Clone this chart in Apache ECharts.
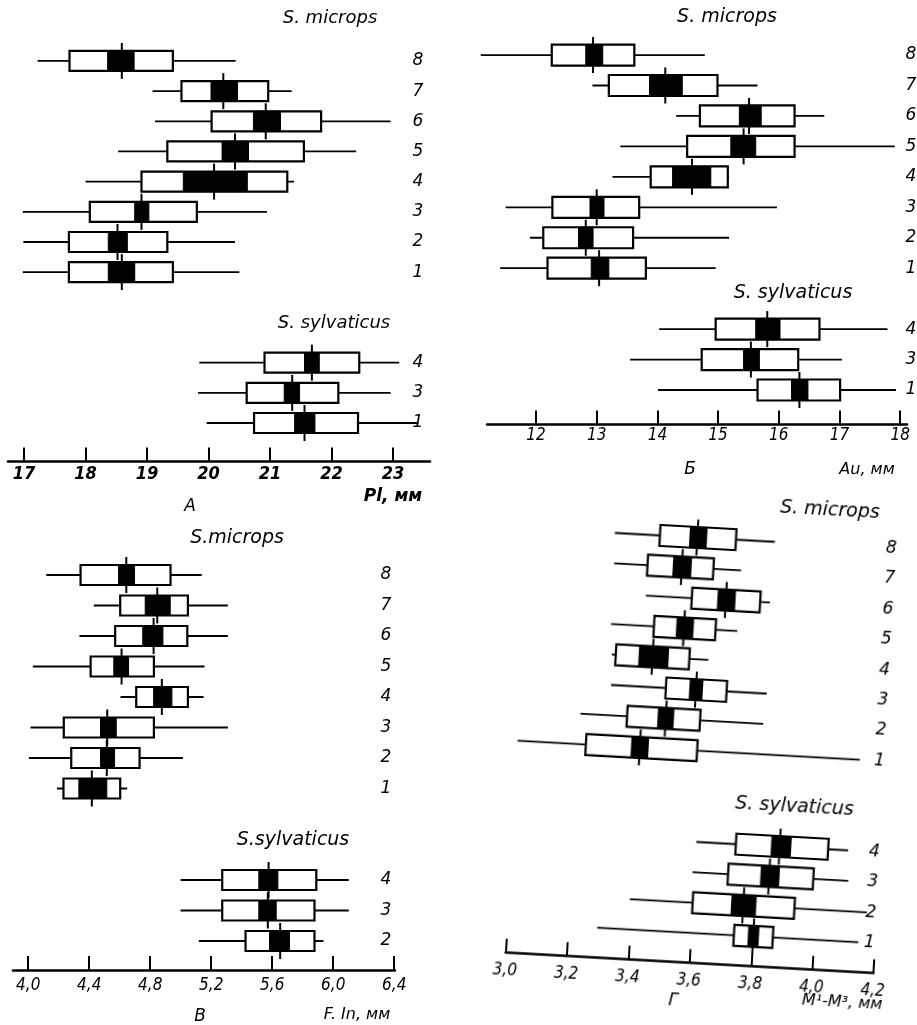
<!DOCTYPE html>
<html><head><meta charset="utf-8">
<script src="https://cdn.jsdelivr.net/npm/echarts@6/dist/echarts.min.js"></script>
<style>
html,body{margin:0;padding:0;background:#fff;}
#main{position:absolute;left:0;top:0;width:917px;height:1025px;}
#g{position:absolute;left:440px;top:470px;width:477px;height:555px;transform:rotate(3.19deg);transform-origin:65.7px 482.7px;}
</style></head>
<body><div id="main"></div><div id="g"></div>
<script>
// Each row: [min, SD low, SE low, mean, SE high, SD high, max]
const rowsMicrops = ['8','7','6','5','4','3','2','1'];

// Panel А — Pl, мм
const A_ticks = [17,18,19,20,21,22,23];
const A_tickLabels = ['17','18','19','20','21','22','23'];
const A_microps = [
  [17.22,17.74,18.36,18.59,18.79,19.42,20.44],
  [19.09,19.56,20.04,20.24,20.47,20.97,21.35],
  [19.13,20.05,20.73,20.93,21.17,21.83,22.96],
  [18.53,19.33,20.22,20.43,20.65,21.55,22.40],
  [18.00,18.91,19.59,20.09,20.63,21.28,21.39],
  [16.98,18.07,18.80,18.91,19.03,19.81,20.95],
  [16.99,17.73,18.37,18.52,18.68,19.33,20.43],
  [16.98,17.73,18.37,18.59,18.80,19.42,20.50]
];
const A_sylvRows = ['4','3','1'];
const A_sylv = [
  [19.85,20.91,21.56,21.68,21.80,22.45,23.10],
  [19.83,20.62,21.23,21.36,21.48,22.11,22.96],
  [19.97,20.74,21.40,21.56,21.73,22.43,23.41]
];

// Panel Б — Au, мм
const B_ticks = [12,13,14,15,16,17,18];
const B_tickLabels = ['12','13','14','15','16','17','18'];
const B_microps = [
  [11.09,12.26,12.82,12.94,13.10,13.62,14.78],
  [12.93,13.20,13.87,14.13,14.41,14.99,15.65],
  [14.31,14.70,15.35,15.51,15.71,16.26,16.75],
  [13.39,14.49,15.21,15.42,15.62,16.26,17.91],
  [13.26,13.89,14.25,14.57,14.88,15.16,15.18],
  [11.50,12.27,12.89,13.00,13.12,13.70,15.97],
  [11.90,12.12,12.70,12.82,12.94,13.60,15.18],
  [11.41,12.19,12.91,13.04,13.20,13.81,14.96]
];
const B_sylvRows = ['4','3','1'];
const B_sylv = [
  [14.03,14.96,15.62,15.81,16.02,16.67,17.79],
  [13.55,14.73,15.42,15.54,15.68,16.32,17.04],
  [14.01,15.65,16.21,16.34,16.48,17.01,17.93]
];

// Panel В — F. In, мм
const V_ticks = [4.0,4.4,4.8,5.2,5.6,6.0,6.4];
const V_tickLabels = ['4,0','4,4','4,8','5,2','5,6','6,0','6,4'];
const V_microps = [
  [4.118,4.343,4.592,4.643,4.697,4.933,5.138],
  [4.430,4.603,4.767,4.846,4.931,5.047,5.309],
  [4.336,4.570,4.751,4.822,4.883,5.043,5.309],
  [4.030,4.409,4.561,4.612,4.658,4.824,5.156],
  [4.605,4.708,4.822,4.876,4.942,5.047,5.150],
  [4.015,4.233,4.474,4.518,4.577,4.824,5.309],
  [4.004,4.282,4.474,4.515,4.566,4.730,5.014],
  [4.188,4.231,4.332,4.417,4.515,4.603,4.649]
];
const V_sylvRows = ['4','3','2'];
const V_sylv = [
  [4.999,5.272,5.512,5.576,5.637,5.889,6.102],
  [4.999,5.272,5.512,5.571,5.626,5.877,6.102],
  [5.119,5.425,5.582,5.652,5.713,5.877,5.936]
];

// Panel Г — M¹-M³, мм
const G_ticks = [3.0,3.2,3.4,3.6,3.8,4.0,4.2];
const G_tickLabels = ['3,0','3,2','3,4','3,6','3,8','4,0','4,2'];
const G_microps = [
  [3.279,3.426,3.524,3.548,3.578,3.674,3.801],
  [3.282,3.391,3.475,3.503,3.533,3.606,3.696],
  [3.391,3.541,3.626,3.652,3.682,3.764,3.796],
  [3.283,3.423,3.497,3.521,3.551,3.624,3.695],
  [3.291,3.304,3.380,3.424,3.475,3.544,3.606],
  [3.294,3.473,3.551,3.571,3.592,3.671,3.802],
  [3.200,3.352,3.453,3.478,3.503,3.590,3.796],
  [3.000,3.223,3.372,3.399,3.426,3.586,4.117]
];
const G_sylvRows = ['4','3','2','1'];
const G_sylv = [
  [3.600,3.729,3.845,3.872,3.908,4.030,4.095],
  [3.593,3.709,3.816,3.843,3.875,3.987,4.101],
  [3.394,3.599,3.726,3.764,3.805,3.931,4.167],
  [3.293,3.739,3.786,3.802,3.819,3.866,4.145]
];

const FONT = "'DejaVu Sans', 'Liberation Sans', sans-serif";
const NARROW = "'Liberation Sans Narrow', 'DejaVu Sans Condensed', 'Liberation Sans', sans-serif";

function buildData(rows, gap) {
  const n = rows.length;
  return rows.map((r, i) => [gap + (n - 1 - i)].concat(r));
}

function makeRender(labels, cfg) {
  return function (params, api) {
    const s = api.value(0);
    const X = k => api.coord([api.value(k), s])[0];
    const y = api.coord([api.value(4), s])[1];
    const bh = cfg.bh, th = cfg.th;
    const xMin = X(1), xSdL = X(2), xSeL = X(3), xM = X(4), xSeH = X(5), xSdH = X(6), xMax = X(7);
    const cs = params.coordSys;
    return {
      type: 'group',
      children: [
        {type:'line', shape:{x1:xMin, y1:y, x2:xMax, y2:y}, style:{stroke:'#000', lineWidth:1.8}},
        {type:'rect', shape:{x:xSdL, y:y-bh/2, width:xSdH-xSdL, height:bh}, style:{fill:'#fff', stroke:'#000', lineWidth:2.2}},
        {type:'rect', shape:{x:xSeL, y:y-bh/2, width:xSeH-xSeL, height:bh}, style:{fill:'#000', stroke:'#000', lineWidth:1}},
        {type:'line', shape:{x1:xM, y1:y-th, x2:xM, y2:y+th}, style:{stroke:'#000', lineWidth:2}},
        {type:'text', x: cs.x + cs.width + cfg.labelDx, y: y,
          style:{text: labels[params.dataIndex], font: 'italic ' + cfg.labelSize + 'px ' + FONT, fill:'#000', align:'center', verticalAlign:'middle'}}
      ]
    };
  };
}

function panel(p, gi) {
  const yMin = -p.off / p.h;
  const yMax = yMin + p.height / p.h;
  const grid = {left:p.left, top:p.axisY - p.height, width:p.width, height:p.height};
  const xAxis = {
    gridIndex: gi, type:'value', min:p.min, max:p.max, position:'bottom',
    axisLine:{show:true, onZero:false, lineStyle:{color:'#000', width:2.5}},
    axisTick:{show:true, inside:true, length:14, customValues:p.ticks, lineStyle:{color:'#000', width:2}},
    axisLabel:{customValues:p.ticks, margin:p.labelMargin, color:'#000', fontFamily:NARROW, fontStyle:'italic',
      fontWeight:p.bold ? 'bold' : 'normal', fontSize:p.tickSize,
      formatter: v => { const i = p.ticks.findIndex(t => Math.abs(t - v) < 1e-6); return i >= 0 ? p.tickLabels[i] : ''; }},
    splitLine:{show:false}
  };
  const yAxis = {gridIndex:gi, type:'value', min:yMin, max:yMax, show:false};
  const cfg = {bh:p.bh, th:18, labelDx:p.labelDx, labelSize:p.labelSize};
  const series = [
    {type:'custom', xAxisIndex:gi, yAxisIndex:gi, data:buildData(p.microps, p.gap), renderItem:makeRender(p.rowsM, cfg), clip:false, silent:true},
    {type:'custom', xAxisIndex:gi, yAxisIndex:gi, data:buildData(p.sylv, 0), renderItem:makeRender(p.rowsS, cfg), clip:false, silent:true}
  ];
  return {grid, xAxis, yAxis, series};
}

function txt(x, y, text, size, extra) {
  return Object.assign({type:'text', x:x, y:y, silent:true,
    style:{text:text, font:'italic ' + size + 'px ' + FONT, fill:'#000', align:'center', verticalAlign:'middle'}}, extra || {});
}

const pA = panel({left:8, width:422, axisY:461.5, height:441.5, min:16.74, max:23.60, ticks:A_ticks, tickLabels:A_tickLabels,
  off:38.5, h:30.17, gap:5, microps:A_microps, sylv:A_sylv, rowsM:rowsMicrops, rowsS:A_sylvRows,
  bh:20, labelDx:-12, labelSize:17, labelMargin:4, tickSize:18, bold:true}, 0);
const pB = panel({left:487, width:420, axisY:424.5, height:410, min:11.193, max:18.112, ticks:B_ticks, tickLabels:B_tickLabels,
  off:34.5, h:30.45, gap:4, microps:B_microps, sylv:B_sylv, rowsM:rowsMicrops, rowsS:B_sylvRows,
  bh:21, labelDx:4, labelSize:17, labelMargin:3, tickSize:17, bold:false}, 1);
const pV = panel({left:13, width:382, axisY:970, height:430, min:3.9, max:6.405, ticks:V_ticks, tickLabels:V_tickLabels,
  off:29, h:30.5, gap:5, microps:V_microps, sylv:V_sylv, rowsM:rowsMicrops, rowsS:V_sylvRows,
  bh:20, labelDx:-9, labelSize:17, labelMargin:7, tickSize:17, bold:false}, 2);

const main = echarts.init(document.getElementById('main'), null, {renderer:'canvas'});
main.setOption({
  backgroundColor:'#fff',
  animation:false,
  grid:[pA.grid, pB.grid, pV.grid],
  xAxis:[pA.xAxis, pB.xAxis, pV.xAxis],
  yAxis:[pA.yAxis, pB.yAxis, pV.yAxis],
  series:[].concat(pA.series, pB.series, pV.series),
  graphic:[
    txt(330, 18, 'S. microps', 18),
    txt(334, 323, 'S. sylvaticus', 18),
    txt(393, 497, 'Pl, мм', 17, {style:{text:'Pl, мм', font:'italic bold 17px ' + FONT, fill:'#000', align:'center', verticalAlign:'middle'}}),
    txt(190, 507, 'А', 17),
    txt(727, 17, 'S. microps', 19),
    txt(793, 293, 'S. sylvaticus', 19),
    txt(690, 470, 'Б', 17),
    txt(867, 470, 'Au, мм', 16),
    txt(237, 538, 'S.microps', 19),
    txt(293, 840, 'S.sylvaticus', 19),
    txt(200, 1017, 'В', 17),
    txt(357, 1015, 'F. In, мм', 16)
  ]
});

const pG = panel({left:65.7, width:368.4, axisY:482.7, height:470, min:3.0, max:4.2, ticks:G_ticks, tickLabels:G_tickLabels,
  off:30, h:30.4, gap:6, microps:G_microps, sylv:G_sylv, rowsM:rowsMicrops, rowsS:G_sylvRows,
  bh:21, labelDx:-6, labelSize:17, labelMargin:9, tickSize:17, bold:false}, 0);
const g = echarts.init(document.getElementById('g'), null, {renderer:'canvas'});
g.setOption({
  animation:false,
  grid:[pG.grid], xAxis:[pG.xAxis], yAxis:[pG.yAxis], series:pG.series,
  graphic:[
    txt(364.8, 22.6, 'S. microps', 19),
    txt(345.9, 320.8, 'S. sylvaticus', 19),
    txt(235.4, 521.6, 'Г', 17),
    txt(404.3, 514.2, 'M¹-M³, мм', 16)
  ]
});
</script>
</body></html>
